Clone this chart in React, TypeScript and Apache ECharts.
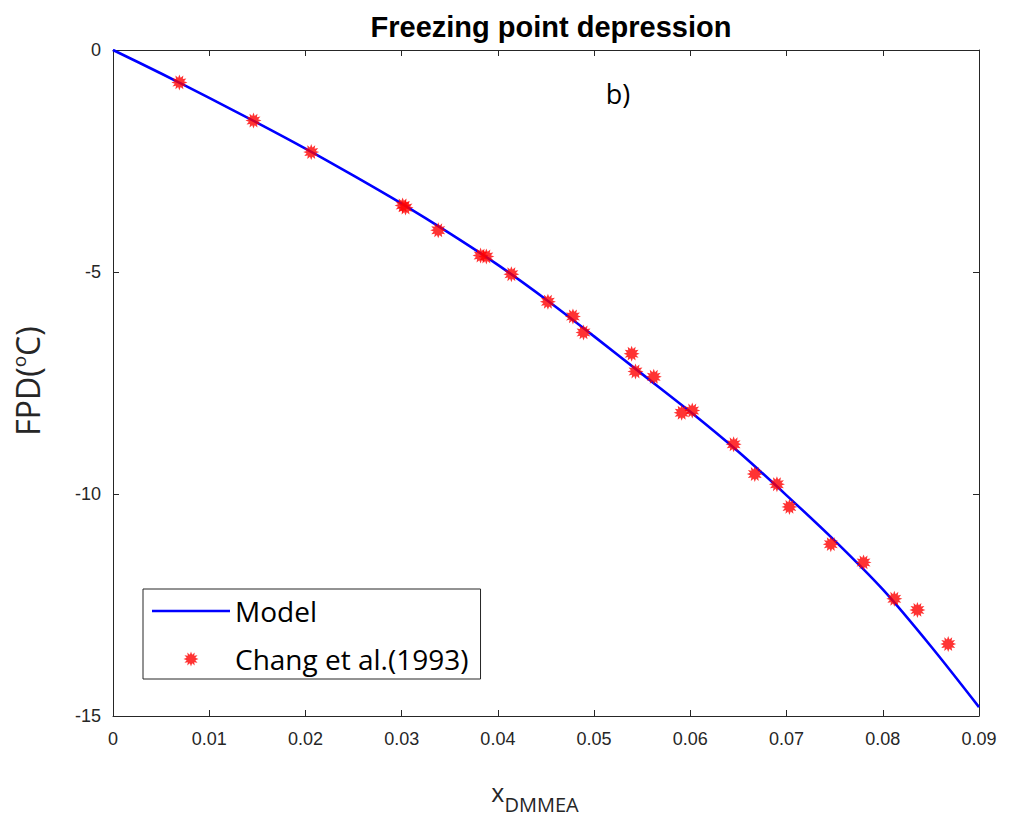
import React, { useEffect, useRef } from "react";
import * as echarts from "echarts";

// Model curve
const modelX = [0, 0.005, 0.01, 0.015, 0.02, 0.025, 0.03, 0.035, 0.04, 0.045, 0.05, 0.055, 0.06, 0.065, 0.07, 0.075, 0.08, 0.085, 0.09];
const modelY = [0, -0.53, -1.08, -1.64, -2.22, -2.83, -3.46, -4.13, -4.84, -5.62, -6.45, -7.3, -8.15, -9.05, -10.03, -11.05, -12.15, -13.43, -14.8];

// Chang et al. (1993) experimental points
const expX = [0.0069, 0.0146, 0.0206, 0.0301, 0.0304, 0.0338, 0.0382, 0.0388, 0.0414, 0.0452, 0.0478, 0.0489, 0.0539, 0.0543, 0.0562, 0.0591, 0.0602, 0.0645, 0.0667, 0.069, 0.0703, 0.0746, 0.078, 0.0812, 0.0836, 0.0868];
const expY = [-0.73, -1.59, -2.3, -3.5, -3.55, -4.06, -4.63, -4.65, -5.05, -5.67, -6.0, -6.36, -6.84, -7.24, -7.36, -8.17, -8.12, -8.88, -9.55, -9.78, -10.29, -11.13, -11.54, -12.36, -12.61, -13.38];

const seriesNames = ["Model", "Chang et al.(1993)"];
const titleText = "Freezing point depression";
const panelLabel = "b)";

function starPath(points: number, rOut: number, rIn: number): string {
  let d = "path://";
  for (let i = 0; i < points * 2; i++) {
    const r = i % 2 === 0 ? rOut : rIn;
    const a = (Math.PI * i) / points - Math.PI / 2;
    d += (i === 0 ? "M" : "L") + (r * Math.cos(a)).toFixed(3) + "," + (r * Math.sin(a)).toFixed(3);
  }
  return d + "Z";
}

const AX = "#262626";

function axisBase() {
  return {
    axisLine: { show: true, onZero: false, lineStyle: { color: AX, width: 1 } },
    axisTick: { show: true, inside: true, length: 6, lineStyle: { color: AX, width: 1 } },
    splitLine: { show: false },
  };
}

export default function App() {
  const ref = useRef<HTMLDivElement>(null);
  useEffect(() => {
    if (!ref.current) return;
    const chart = echarts.init(ref.current, null, { renderer: "svg" });
    const star = starPath(12, 10, 6);
    const tickFont = { fontFamily: "Liberation Sans, Arial, sans-serif", fontSize: 18, color: AX };
    const lineIcon = "path://M0,0L78,0L78,2.6L0,2.6Z";
    chart.setOption({
      animation: false,
      backgroundColor: "#ffffff",
      title: {
        text: titleText,
        left: 546,
        top: 7,
        textAlign: "center",
        textStyle: { fontFamily: "Liberation Sans, Arial, sans-serif", fontWeight: "bold", fontSize: 29, color: "#000" },
      },
      grid: { left: 113, right: 32, top: 50, bottom: 105 },
      xAxis: [
        {
          type: "value", min: 0, max: 0.09, interval: 0.01, position: "bottom",
          ...axisBase(),
          axisLabel: { ...tickFont, margin: 14, formatter: (v: number) => String(parseFloat(v.toFixed(2))) },
        },
        {
          type: "value", min: 0, max: 0.09, interval: 0.01, position: "top",
          ...axisBase(), axisLabel: { show: false },
        },
      ],
      yAxis: [
        {
          type: "value", min: -15, max: 0, interval: 5, position: "left",
          ...axisBase(),
          axisLabel: { ...tickFont, margin: 12 },
        },
        {
          type: "value", min: -15, max: 0, interval: 5, position: "right",
          ...axisBase(), axisLabel: { show: false },
        },
      ],
      legend: {
        orient: "vertical",
        left: 143,
        top: 589,
        padding: [8, 12, 6, 9],
        itemGap: 20,
        itemWidth: 78,
        itemHeight: 15,
        borderColor: AX,
        borderWidth: 1,
        backgroundColor: "#fff",
        textStyle: { fontFamily: "Open Sans, sans-serif", fontSize: 28, color: "#000", lineHeight: 28 },
        data: [
          { name: seriesNames[0], icon: lineIcon, itemStyle: { color: "#0000ff" } },
          { name: seriesNames[1], icon: star },
        ],
      },
      graphic: [
        {
          type: "text", x: 618, y: 93,
          style: { text: panelLabel, fontFamily: "Open Sans, sans-serif", fontSize: 27, fill: "#000", align: "center", verticalAlign: "middle" },
        },
        {
          type: "text", x: 27, y: 381, rotation: Math.PI / 2,
          style: {
            text: "{a|FPD(}{s|o}{a|C)}",
            align: "center", verticalAlign: "middle",
            rich: {
              a: { fontFamily: "Open Sans, sans-serif", fontSize: 32, fill: "#262626" },
              s: { fontFamily: "Open Sans, sans-serif", fontSize: 19, fill: "#262626", padding: [0, 0, 16, 0] },
            },
          },
        },
        {
          type: "text", x: 535, y: 795,
          style: {
            text: "{a|x}{b|DMMEA}",
            align: "center", verticalAlign: "middle",
            rich: {
              a: { fontFamily: "Open Sans, sans-serif", fontSize: 25, fill: "#262626", padding: [0, 0, 6, 0] },
              b: { fontFamily: "Open Sans, sans-serif", fontSize: 20, fill: "#262626", padding: [18, 0, 0, 0] },
            },
          },
        },
      ],
      series: [
        {
          name: seriesNames[0],
          type: "line",
          xAxisIndex: 0,
          yAxisIndex: 0,
          data: modelX.map((x, i) => [x, modelY[i]]),
          symbol: "none",
          smooth: 0.3,
          lineStyle: { color: "#0000ff", width: 2.6 },
          itemStyle: { color: "#0000ff" },
          z: 2,
        },
        {
          name: seriesNames[1],
          type: "scatter",
          xAxisIndex: 0,
          yAxisIndex: 0,
          data: expX.map((x, i) => [x, expY[i]]),
          symbol: star,
          symbolSize: 16,
          itemStyle: { color: "#ff0000" },
          z: 3,
        },
      ],
    });
    return () => chart.dispose();
  }, []);
  return <div ref={ref} style={{ position: "absolute", left: 0, top: 0, width: 1011, height: 821 }} />;
}
